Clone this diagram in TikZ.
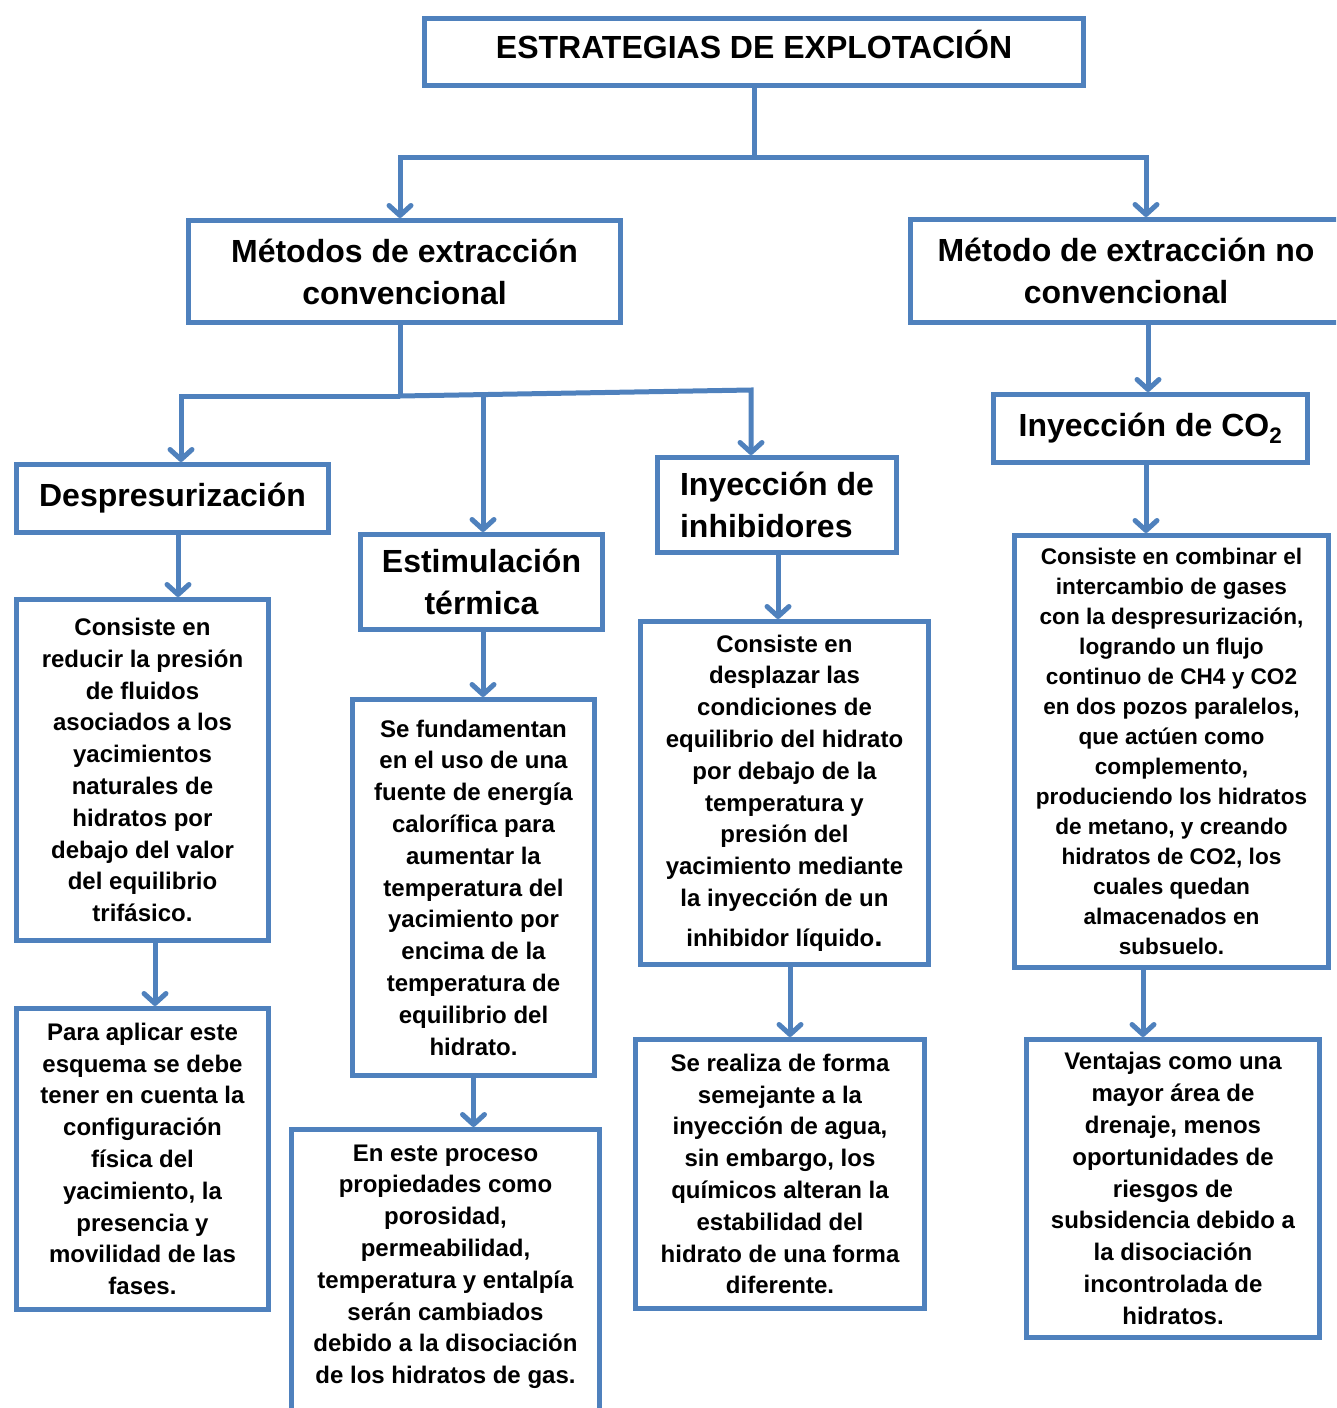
\documentclass[tikz,border=0pt]{standalone}
\usepackage{fontspec}
\setmainfont{Liberation Sans}
\usetikzlibrary{arrows.meta}
\definecolor{frame}{HTML}{4F81BD}

\begin{document}
\begin{tikzpicture}[x=1pt, y=-1pt,
    box/.style = {draw=frame, line width=5pt, align=center, inner sep=0pt, font=\bfseries\fontsize{24}{31.8}\selectfont},
    head/.style = {box, font=\bfseries\fontsize{32}{42}\selectfont},
    link/.style = {draw=frame, line width=5pt},
    flow/.style = {link, -{Straight Barb[length=10pt,width=22pt,round]}}]
    \clip (0,0) rectangle (1336,1408);
    %Titles
    \node[box, font=\bfseries\fontsize{32}{36}\selectfont, text height=22pt, text depth=10pt, minimum width=659pt, minimum height=67pt] (estr) at (754,52) {ESTRATEGIAS DE EXPLOTACIÓN};
    \node[head, minimum width=432pt, minimum height=102pt] (conv) at (404.5,271.5) {Métodos de extracción\\convencional};
    \node[head, minimum width=431pt, minimum height=103pt] (noconv) at (1126,271) {Método de extracción no\\convencional};
    \node[head, minimum width=312pt, minimum height=68pt] (desp) at (172.5,498.5) {Despresurización};
    \node[head, minimum width=242pt, minimum height=95pt] (term) at (481.5,582) {Estimulación\\térmica};
    \node[head, align=left, minimum width=239pt, minimum height=95pt] (inhib) at (777,505) {Inyección de\\inhibidores};
    \node[head, minimum width=314pt, minimum height=68pt] (co2) at (1150.5,428.5) {Inyección de CO\textsubscript{2}};

    %Descriptions
    \node[box, minimum width=252pt, minimum height=341pt] (desp1) at (142.5,770) {Consiste en\\reducir la presión\\de fluidos\\asociados a los\\yacimientos\\naturales de\\hidratos por\\debajo del valor\\del equilibrio\\trifásico.};
    \node[box, minimum width=252pt, minimum height=301pt] (desp2) at (142.5,1159) {Para aplicar este\\esquema se debe\\tener en cuenta la\\configuración\\física del\\yacimiento, la\\presencia y\\movilidad de las\\fases.};
    \node[box, minimum width=242pt, minimum height=376pt] (term1) at (473.5,887.5) {Se fundamentan\\en el uso de una\\fuente de energía\\calorífica para\\aumentar la\\temperatura del\\yacimiento por\\encima de la\\temperatura de\\equilibrio del\\hidrato.};
    \node[box, minimum width=308pt, minimum height=333pt] (term2) at (445.5,1296) {En este proceso\\propiedades como\\porosidad,\\permeabilidad,\\temperatura y entalpía\\serán cambiados\\debido a la disociación\\de los hidratos de gas.\\\mbox{}\\\mbox{}};
    \node[box, minimum width=288pt, minimum height=343pt] (inhib1) at (784.5,793) {Consiste en\\desplazar las\\condiciones de\\equilibrio del hidrato\\por debajo de la\\temperatura y\\presión del\\yacimiento mediante\\la inyección de un\\[8pt]inhibidor líquido{\fontsize{30}{30}\selectfont.}};
    \node[box, minimum width=289pt, minimum height=269pt] (inhib2) at (780,1174) {Se realiza de forma\\semejante a la\\inyección de agua,\\sin embargo, los\\químicos alteran la\\estabilidad del\\hidrato de una forma\\diferente.};
    \node[box, font=\bfseries\fontsize{22.6}{30}\selectfont, minimum width=314pt, minimum height=432pt] (co21) at (1171.5,751.5) {Consiste en combinar el\\intercambio de gases\\con la despresurización,\\logrando un flujo\\continuo de CH4 y CO2\\en dos pozos paralelos,\\que actúen como\\complemento,\\produciendo los hidratos\\de metano, y creando\\hidratos de CO2, los\\cuales quedan\\almacenados en\\subsuelo.};
    \node[box, minimum width=293pt, minimum height=298pt] (co22) at (1173,1188.5) {Ventajas como una\\mayor área de\\drenaje, menos\\oportunidades de\\riesgos de\\subsidencia debido a\\la disociación\\incontrolada de\\hidratos.};

    %Branches
    \draw[link] (estr.south) -- ++(0,69.5) coordinate (j1);
    \draw[flow] (j1) -| ([xshift=-4.5pt]conv.north);
    \draw[flow] (j1) -| ([xshift=20pt]noconv.north);
    \draw[link] ([xshift=-4.5pt]conv.south) -- ++(0,71) coordinate (j2);
    \coordinate (jl) at (181,396);
    \coordinate (jm) at (483,392.8);
    \coordinate (jr) at (751,390);
    \draw[flow] (j2) -- (jl) -- (jl |- desp.north);
    \draw[flow] (j2) -- (jr) -- (jr |- inhib.north);
    \draw[flow] (jm) -- (jm |- term.north);

    %Steps
    \draw[flow] ([xshift=5.5pt]desp.south) -- ([xshift=5.5pt]desp.south |- desp1.north);
    \draw[flow] ([xshift=12.5pt]desp1.south) -- ([xshift=12.5pt]desp1.south |- desp2.north);
    \draw[flow] ([xshift=1.5pt]term.south) -- ([xshift=1.5pt]term.south |- term1.north);
    \draw[flow] (term1.south) -- (term1.south |- term2.north);
    \draw[flow] ([xshift=1pt]inhib.south) -- ([xshift=1pt]inhib.south |- inhib1.north);
    \draw[flow] ([xshift=5.5pt]inhib1.south) -- ([xshift=5.5pt]inhib1.south |- inhib2.north);
    \draw[flow] ([xshift=22pt]noconv.south) -- ([xshift=22pt]noconv.south |- co2.north);
    \draw[flow] ([xshift=-4.5pt]co2.south) -- ([xshift=-4.5pt]co2.south |- co21.north);
    \draw[flow] ([xshift=-28.5pt]co21.south) -- ([xshift=-28.5pt]co21.south |- co22.north);
\end{tikzpicture}
\end{document}
